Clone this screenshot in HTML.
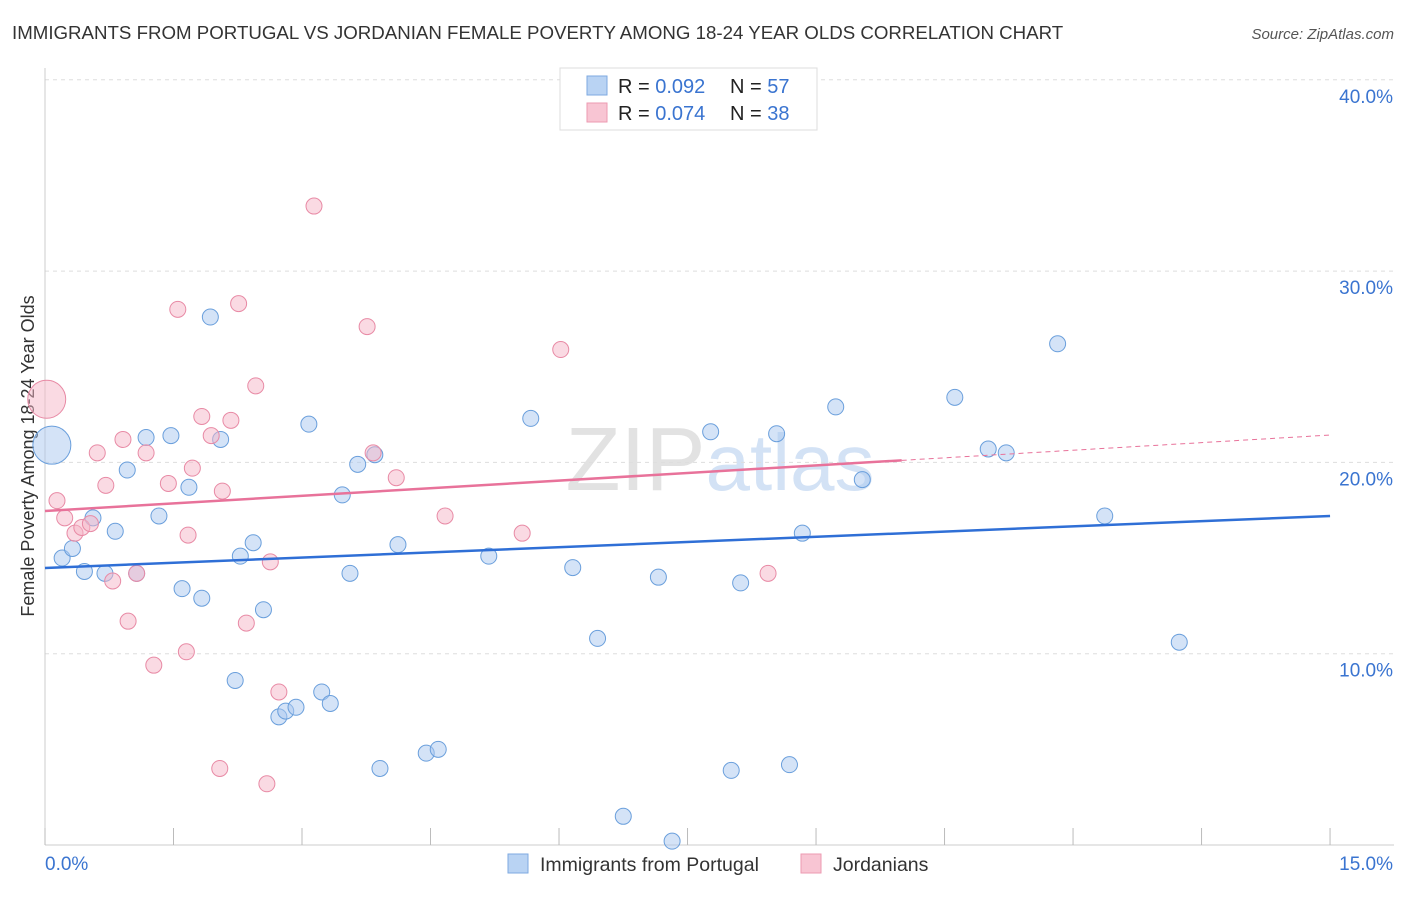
<!DOCTYPE html>
<html><head><meta charset="utf-8"><style>
body{margin:0;background:#fff;font-family:"Liberation Sans",sans-serif;}
svg text{font-family:"Liberation Sans",sans-serif;}
</style></head><body>
<svg id="chart" width="1406" height="892" xmlns="http://www.w3.org/2000/svg">
<text x="12" y="39" font-size="18.7" fill="#333">IMMIGRANTS FROM PORTUGAL VS JORDANIAN FEMALE POVERTY AMONG 18-24 YEAR OLDS CORRELATION CHART</text>
<text x="1394" y="39" font-size="15" fill="#555" text-anchor="end" font-style="italic">Source: ZipAtlas.com</text>
<text x="34" y="456" font-size="18" fill="#333" text-anchor="middle" transform="rotate(-90 34 456)">Female Poverty Among 18-24 Year Olds</text>
<text x="720" y="490" font-size="90" fill="#e2e2e2" text-anchor="middle" font-family="Liberation Serif">ZIP<tspan fill="#d3e2f5" font-family="Liberation Sans" font-size="80">atlas</tspan></text>
<g id="grid"></g><g id="pts"></g><g id="lines"></g>
<g>
<rect x="560" y="68" width="257" height="62" fill="#fff" stroke="#ddd"/>
<rect x="587" y="76" width="20" height="19" fill="#b9d3f3" stroke="#7eaae0"/>
<rect x="587" y="103" width="20" height="19" fill="#f8c5d3" stroke="#ec9ab2"/>
<text x="618" y="93" font-size="20" fill="#222">R = <tspan fill="#3a74d0">0.092</tspan></text>
<text x="730" y="93" font-size="20" fill="#222">N = <tspan fill="#3a74d0">57</tspan></text>
<text x="618" y="120" font-size="20" fill="#222">R = <tspan fill="#3a74d0">0.074</tspan></text>
<text x="730" y="120" font-size="20" fill="#222">N = <tspan fill="#3a74d0">38</tspan></text>
</g>
<g>
<rect x="508" y="854" width="20" height="19" fill="#b9d3f3" stroke="#7eaae0"/>
<text x="540" y="871" font-size="19.5" fill="#333">Immigrants from Portugal</text>
<rect x="801" y="854" width="20" height="19" fill="#f8c5d3" stroke="#ec9ab2"/>
<text x="833" y="871" font-size="19.5" fill="#333">Jordanians</text>
</g>
</svg>
<script>
const yTicks=[10,20,30,40];
const xTickLabels=["0.0%","15.0%"];
const blueX=[0.08,0.2,0.32,0.46,0.56,0.7,0.82,0.96,1.07,1.18,1.33,1.47,1.6,1.68,1.83,1.93,2.05,2.22,2.28,2.43,2.55,2.73,2.81,2.93,3.08,3.23,3.33,3.47,3.56,3.65,3.85,3.91,4.12,4.45,4.59,5.18,5.67,6.16,6.45,6.75,7.16,7.32,7.77,8.01,8.12,8.3,8.54,8.69,8.84,9.23,9.54,10.62,11.01,11.22,11.82,12.37,13.24];
const blueY=[20.9,15.0,15.5,14.3,17.1,14.2,16.4,19.6,14.2,21.3,17.2,21.4,13.4,18.7,12.9,27.6,21.2,8.6,15.1,15.8,12.3,6.7,7.0,7.2,22.0,8.0,7.4,18.3,14.2,19.9,20.4,4.0,15.7,4.8,5.0,15.1,22.3,14.5,10.8,1.5,14.0,0.2,21.6,3.9,13.7,38.5,21.5,4.2,16.3,22.9,19.1,23.4,20.7,20.5,26.2,17.2,10.6];
const pinkX=[0.02,0.14,0.23,0.35,0.43,0.53,0.61,0.71,0.79,0.91,0.97,1.07,1.18,1.27,1.44,1.55,1.65,1.67,1.72,1.83,1.94,2.04,2.07,2.17,2.26,2.35,2.46,2.59,2.63,2.73,3.14,3.76,3.83,4.1,4.67,5.57,6.02,8.44];
const pinkY=[23.3,18.0,17.1,16.3,16.6,16.8,20.5,18.8,13.8,21.2,11.7,14.2,20.5,9.4,18.9,28.0,10.1,16.2,19.7,22.4,21.4,4.0,18.5,22.2,28.3,11.6,24.0,3.2,14.8,8.0,33.4,27.1,20.5,19.2,17.2,16.3,25.9,14.2];
const blueTrend=[14.48,17.2];
const pinkTrend=[17.46,21.43];
const pinkSolidEnd=10.0;
const ns="http://www.w3.org/2000/svg";
const X=v=>45+v*85.67, Y=v=>845-v*19.13;
const svg=document.getElementById('chart');
function mk(t,a,p){const e=document.createElementNS(ns,t);for(const k in a)e.setAttribute(k,a[k]);(p||svg).appendChild(e);return e;}
const g=document.getElementById('grid');
yTicks.forEach(v=>{
 const l=mk('line',{x1:45,x2:1394,y1:Y(v),y2:Y(v),stroke:'#ddd','stroke-dasharray':'4,4'},g);
 
 
 const t=mk('text',{x:1393,y:Y(v)+23,'font-size':19,fill:'#3a74d0','text-anchor':'end'},g);t.textContent=v.toFixed(1)+'%';
 
 
});
mk('line',{x1:45,x2:45,y1:68,y2:845,stroke:'#ccc'},g);
mk('line',{x1:45,x2:1394,y1:845,y2:845,stroke:'#ccc'},g);
for(let i=0;i<=10;i++){const x=X(i*1.5);const tk=mk('line',{x1:x,x2:x,y1:828,y2:845,stroke:'#bbb'},g);
 
 }
const tx0=mk('text',{x:45,y:870,'font-size':19,fill:'#3a74d0'},g);tx0.textContent=xTickLabels[0];


const tx1=mk('text',{x:1393,y:870,'font-size':19,fill:'#3a74d0','text-anchor':'end'},g);tx1.textContent=xTickLabels[1];


const pg=document.getElementById('pts');
function pts(xs,ys,fill,stroke,name){xs.forEach((x,i)=>{
 const c=mk('circle',{cx:X(x),cy:Y(ys[i]),r:i===0&&x<0.1?19:8,fill:fill,'fill-opacity':0.5,stroke:stroke,'stroke-width':1},pg);
 
 });}
pts(blueX,blueY,'#a9c8f0','#6a9fdc','portugal-point');
pts(pinkX,pinkY,'#f6b6c8','#e88aa5','jordanian-point');
const lg=document.getElementById('lines');
const bl=mk('line',{x1:X(0),y1:Y(blueTrend[0]),x2:X(15),y2:Y(blueTrend[1]),stroke:'#2f6fd6','stroke-width':2.5},lg);


const pm=pinkTrend[0]+(pinkTrend[1]-pinkTrend[0])*pinkSolidEnd/15;
const pl=mk('line',{x1:X(0),y1:Y(pinkTrend[0]),x2:X(pinkSolidEnd),y2:Y(pm),stroke:'#e8729a','stroke-width':2.5},lg);


const pd=mk('line',{x1:X(pinkSolidEnd),y1:Y(pm),x2:X(15),y2:Y(pinkTrend[1]),stroke:'#e8729a','stroke-width':1,'stroke-dasharray':'5,4'},lg);


</script>
</body></html>
